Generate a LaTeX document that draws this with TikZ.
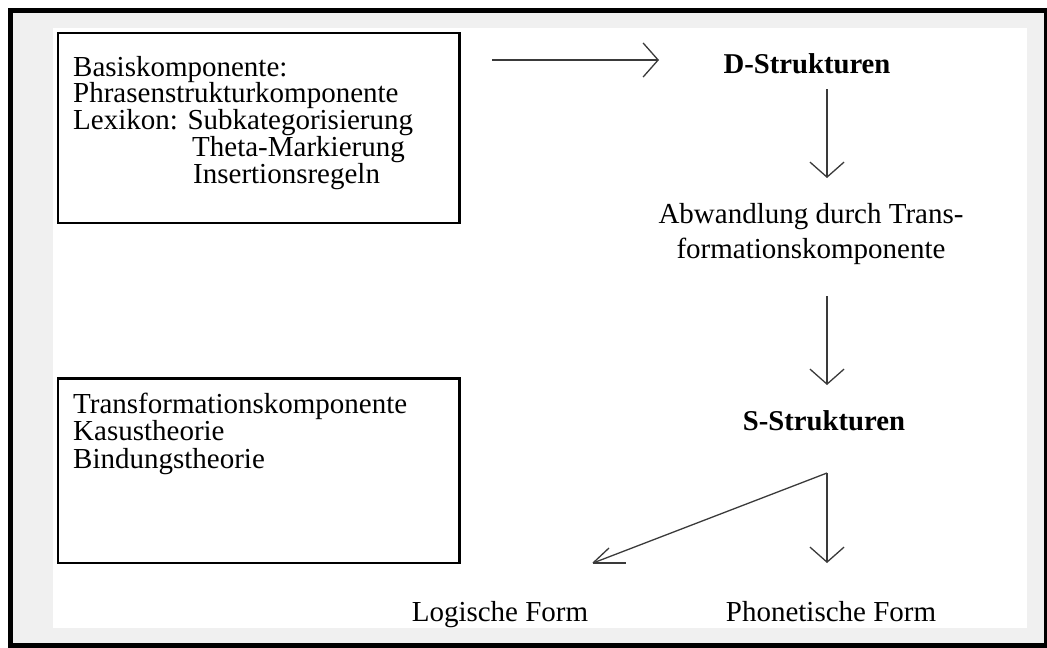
\documentclass[tikz,border=0pt]{standalone}
\usepackage{fontspec}
\setmainfont{Liberation Serif}
\usetikzlibrary{arrows.meta}
\definecolor{framegray}{HTML}{F0F0F0}
\definecolor{arrowgray}{HTML}{3A3A3A}
\begin{document}
\begin{tikzpicture}[x=1pt,y=-1pt,
  boxtext/.style={anchor=base west,inner sep=0pt,align=left,
    font=\fontsize{29}{26.75}\selectfont},
  label/.style={anchor=base,inner sep=0pt,font=\fontsize{29}{35}\selectfont},
  title/.style={anchor=base,inner sep=0pt,font=\fontsize{28.7}{34}\selectfont\bfseries},
  panelbox/.style={draw=black,line width=2.6pt,anchor=north west,inner sep=0pt},
  flow/.style={draw=arrowgray,line width=1.3pt,
    -{Straight Barb[length=15pt,width=34pt]}},
  flowline/.style={draw=arrowgray,line width=1.3pt}]
\useasboundingbox (0,0) rectangle (1047,648);
% outer frame with grey margin and white sheet
\fill[framegray] (10,10) rectangle (1046,646);
\draw[black,line width=4.6pt] (10.5,10.3) rectangle (1045.8,645.6);
\fill[white] (53,28) rectangle (1027,628);

% component boxes (multi-line texts are placed by their last baseline)
\node[panelbox,minimum width=401.5pt,minimum height=190pt] (box1) at (56.5,31.5) {};
\node[panelbox,minimum width=401.5pt,minimum height=184.5pt] (box2) at (56.5,377) {};
\node[boxtext] (b1) at (73,183) {Basiskomponente:\\Phrasenstrukturkomponente\\
  Lexikon: Subkategorisierung\\\hspace*{119pt}Theta-Markierung\\\hspace*{120pt}Insertionsregeln};
\node[boxtext,font=\fontsize{29}{27.5}\selectfont] (b2) at (73,468)
  {Transformationskomponente\\Kasustheorie\\Bindungstheorie};

% derivation stages
\node[title] (ds) at (807,73) {D-Strukturen};
\node[label,align=center] (abw) at (811,258) {Abwandlung durch Trans-\\formationskomponente};
\node[title] (ss) at (824,430) {S-Strukturen};
\node[label] (lf) at (500,621) {Logische Form};
\node[label] (pf) at (831,621) {Phonetische Form};

% arrow end points
\coordinate (h0) at (492,60);
\coordinate (h1) at (659,60);
\coordinate (v0) at (827,89);
\coordinate (v1) at (827,178);
\coordinate (w0) at (827,296);
\coordinate (w1) at (827,385);
\coordinate (split) at (827,473);
\coordinate (pfin) at (827,563);
\coordinate (lfin) at (593,563);

\draw[flow] (h0) -- (h1);
\draw[flow] (v0) -- (v1);
\draw[flow] (w0) -- (w1);
\draw[flow] (split) -- (pfin);
\draw[flowline] (split) -- (lfin);
\draw[flowline] (lfin) -- ++(16,-15);
\draw[flowline] (lfin) -- ++(33,0);
\end{tikzpicture}
\end{document}
